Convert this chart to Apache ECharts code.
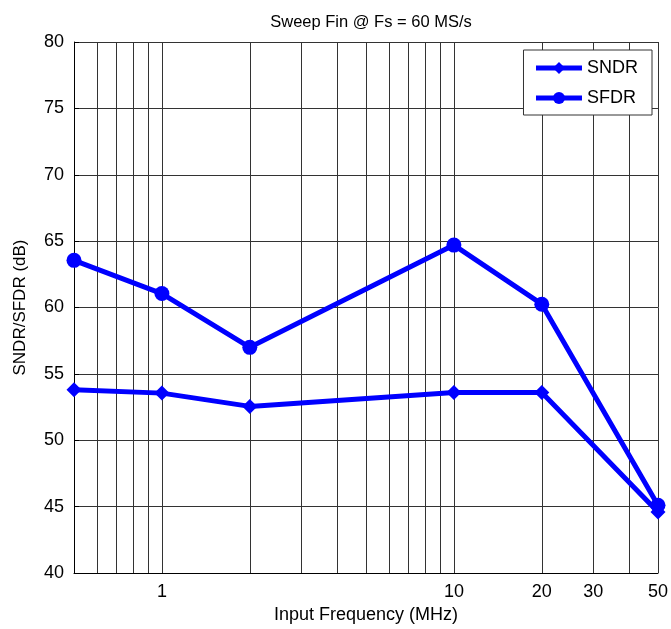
<!DOCTYPE html>
<html>
<head>
<meta charset="utf-8">
<script src="https://cdn.jsdelivr.net/npm/echarts@6/dist/echarts.min.js"></script>
<style>
  html, body { margin: 0; padding: 0; background: #fff; }
  #main { width: 671px; height: 629px; }
</style>
</head>
<body>
<div id="main"></div>
<script>
// input frequency (MHz)
var freqs = [0.5, 1, 2, 10, 20, 50];
var sndr = [53.8, 53.55, 52.55, 53.6, 53.6, 44.6];
var sfdr = [63.55, 61.05, 57.0, 64.7, 60.25, 45.1];
// log grid lines and labelled ticks
var gridFreqs = [0.5, 0.6, 0.7, 0.8, 0.9, 1, 2, 3, 4, 5, 6, 7, 8, 9, 10, 20, 30, 40, 50];
var xLabels = [1, 10, 20, 30, 50];

var chart = echarts.init(document.getElementById('main'));

function pairs(ys) {
    return freqs.map(function (f, i) { return [f, ys[i]]; });
}

var fontName = 'Liberation Sans';
var blue = '#0000ff';

var option = {
    backgroundColor: '#fff',
    animation: false,
    title: {
        text: 'Sweep Fin @ Fs = 60 MS/s',
        left: 366,
        textAlign: 'center',
        top: 9,
        textStyle: { fontFamily: fontName, fontSize: 16.5, fontWeight: 'normal', color: '#000' }
    },
    legend: {
        right: 19,
        top: 50,
        orient: 'vertical',
        backgroundColor: '#fff',
        borderColor: '#333',
        borderWidth: 1,
        padding: [9, 14, 8, 10],
        itemWidth: 46,
        itemHeight: 15,
        itemGap: 12,
        lineStyle: { width: 5 },
        textStyle: { fontFamily: fontName, fontSize: 18, color: '#000' },
        data: ['SNDR', 'SFDR']
    },
    grid: { left: 74, right: 12, top: 42, bottom: 56 },
    xAxis: {
        type: 'log',
        logBase: 10,
        min: 0.5,
        max: 50,
        name: 'Input Frequency (MHz)',
        nameLocation: 'middle',
        nameGap: 33,
        nameTextStyle: { fontFamily: fontName, fontSize: 18, color: '#000' },
        axisLine: { lineStyle: { color: '#000', width: 1 } },
        axisTick: { show: false, customValues: gridFreqs },
        axisLabel: {
            customValues: xLabels,
            fontFamily: fontName, fontSize: 18, color: '#000', margin: 10,
            formatter: function (v) { return String(v); }
        },
        splitLine: { show: true, lineStyle: { color: '#333', width: 1 } }
    },
    yAxis: {
        type: 'value',
        min: 40,
        max: 80,
        interval: 5,
        name: 'SNDR/SFDR (dB)',
        nameLocation: 'middle',
        nameGap: 45,
        nameTextStyle: { fontFamily: fontName, fontSize: 17, color: '#000' },
        axisLine: { show: true, lineStyle: { color: '#000', width: 1 } },
        axisTick: { show: true, inside: true, length: 5, lineStyle: { color: '#000' } },
        axisLabel: { fontFamily: fontName, fontSize: 18, color: '#000', margin: 10 },
        splitLine: { show: true, lineStyle: { color: '#333', width: 1 } }
    },
    series: [{
        name: 'SNDR',
        type: 'line',
        data: pairs(sndr),
        symbol: 'diamond',
        symbolSize: 15,
        lineStyle: { color: blue, width: 5 },
        itemStyle: { color: blue },
        z: 3
    }, {
        name: 'SFDR',
        type: 'line',
        data: pairs(sfdr),
        symbol: 'circle',
        symbolSize: 15,
        lineStyle: { color: blue, width: 5 },
        itemStyle: { color: blue },
        z: 3
    }]
};
chart.setOption(option);
</script>
</body>
</html>
